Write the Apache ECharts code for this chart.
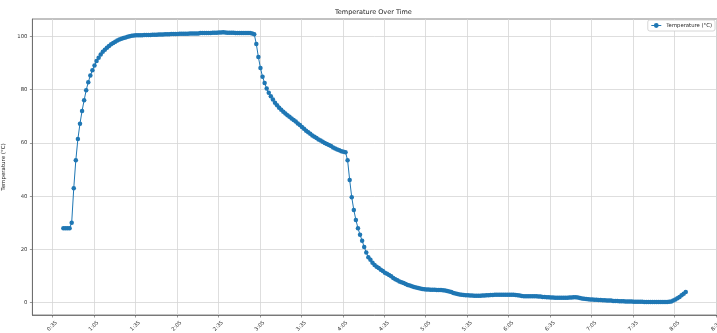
<!DOCTYPE html>
<html>
<head>
<meta charset="utf-8">
<script src="https://cdn.jsdelivr.net/npm/echarts@6/dist/echarts.min.js"></script>
<style>
  html, body { margin: 0; padding: 0; background: #fff; }
  #chart { width: 717px; height: 333px; }
</style>
</head>
<body>
<div id="chart"></div>
<script>
// sampling: first reading at 0:43, then one every 1.5 min
const startMinute = 43
const stepMinutes = 1.5

// temperature readings (°C)
const temps = [
  28.0, 28.0, 28.0, 28.0, 30.0, 43.0, 53.5, 61.5, 67.2, 72.0,
  76.0, 79.8, 82.8, 85.3, 87.3, 89.0, 90.7, 92.0, 93.2, 94.2,
  95.0, 95.7, 96.4, 97.0, 97.5, 98.0, 98.4, 98.8, 99.1, 99.4,
  99.6, 99.8, 100.0, 100.2, 100.3, 100.4, 100.4, 100.4, 100.4, 100.5,
  100.5, 100.5, 100.5, 100.6, 100.6, 100.6, 100.7, 100.7, 100.7, 100.8,
  100.8, 100.8, 100.9, 100.9, 100.9, 100.9, 101.0, 101.0, 101.0, 101.0,
  101.0, 101.1, 101.1, 101.1, 101.1, 101.1, 101.2, 101.2, 101.2, 101.2,
  101.2, 101.2, 101.3, 101.3, 101.3, 101.4, 101.4, 101.5, 101.4, 101.3,
  101.3, 101.3, 101.3, 101.2, 101.2, 101.2, 101.2, 101.2, 101.2, 101.2,
  101.2, 101.1, 100.8, 97.1, 92.2, 88.1, 84.8, 82.5, 80.4, 78.8,
  77.5, 76.3, 75.1, 74.1, 73.2, 72.4, 71.7, 71.0, 70.4, 69.8,
  69.2, 68.6, 68.0, 67.3, 66.7, 66.0, 65.3, 64.6, 64.0, 63.4,
  62.8, 62.3, 61.8, 61.3, 60.9, 60.4, 60.0, 59.6, 59.2, 58.8,
  58.3, 57.9, 57.5, 57.2, 56.9, 56.7, 56.5, 53.5, 46.1, 39.6,
  34.8, 31.1, 28.0, 25.5, 23.3, 20.9, 18.9, 17.1, 16.1, 15.0,
  14.2, 13.5, 13.0, 12.4, 11.9, 11.3, 10.9, 10.4, 9.9, 9.3,
  8.8, 8.4, 8.0, 7.7, 7.4, 7.0, 6.7, 6.5, 6.2, 5.9,
  5.7, 5.5, 5.3, 5.2, 5.1, 5.0, 5.0, 4.9, 4.9, 4.9,
  4.8, 4.8, 4.8, 4.7, 4.6, 4.4, 4.2, 4.0, 3.7, 3.5,
  3.3, 3.1, 3.0, 2.9, 2.8, 2.8, 2.7, 2.7, 2.6, 2.6,
  2.6, 2.6, 2.7, 2.7, 2.8, 2.8, 2.9, 2.9, 3.0, 3.0,
  3.0, 3.0, 3.0, 3.0, 3.0, 3.0, 3.0, 3.0, 2.9, 2.8,
  2.7, 2.5, 2.4, 2.4, 2.4, 2.4, 2.4, 2.4, 2.4, 2.3,
  2.3, 2.2, 2.2, 2.1, 2.1, 2.0, 2.0, 1.9, 1.9, 1.9,
  1.9, 1.9, 1.9, 1.9, 2.0, 2.0, 2.1, 2.1, 2.0, 1.8,
  1.6, 1.5, 1.4, 1.3, 1.2, 1.2, 1.1, 1.1, 1.0, 1.0,
  0.9, 0.9, 0.8, 0.8, 0.8, 0.7, 0.7, 0.7, 0.6, 0.6,
  0.6, 0.5, 0.5, 0.5, 0.5, 0.4, 0.4, 0.4, 0.4, 0.4,
  0.3, 0.3, 0.3, 0.3, 0.3, 0.3, 0.3, 0.3, 0.3, 0.3,
  0.3, 0.3, 0.4, 0.5, 0.8, 1.2, 1.7, 2.2, 2.8, 3.4,
  4.0
]

// tick positions (minutes) and y ticks
const xTicks = [35, 65, 95, 125, 155, 185, 215, 245, 275, 305, 335, 365, 395, 425, 455, 485, 515]
const yTicks = [0, 20, 40, 60, 80, 100]

const seriesData = temps.map(function (t, i) {
  return [startMinute + i * stepMinutes, t]
})

function fmtTime(v) {
  let h = Math.floor(v / 60)
  let m = Math.round(v - h * 60)
  return h + ':' + (m < 10 ? '0' + m : m)
}

const font = 'DejaVu Sans'
let chart = echarts.init(document.getElementById('chart'), null, { renderer: 'canvas' })

let option = {
  backgroundColor: '#fff',
  animation: false,
  textStyle: { fontFamily: font },
  title: {
    text: 'Temperature Over Time',
    left: 335,
    top: 9,
    padding: 0,
    textStyle: { fontFamily: font, fontSize: 6.5, fontWeight: 'normal', color: '#222' }
  },
  legend: {
    right: 2,
    top: 20,
    padding: [3, 3, 3, 3],
    itemWidth: 10,
    itemHeight: 6,
    lineStyle: { width: 1 },
    borderColor: '#ccc',
    borderWidth: 0.8,
    borderRadius: 2,
    backgroundColor: '#fff',
    textStyle: { fontFamily: font, fontSize: 5.3, color: '#222' },
    data: ['Temperature (°C)']
  },
  grid: {
    left: 32.4,
    right: 0,
    top: 19,
    bottom: 18,
    show: true,
    borderColor: '#666',
    borderWidth: 0.8,
    containLabel: false,
    outerBoundsMode: 'none'
  },
  xAxis: {
    type: 'value',
    min: 20.6,
    max: 515.6,
    axisLine: { show: true, onZero: false, lineStyle: { color: '#666', width: 0.8 } },
    axisTick: { show: true, length: 2.5, lineStyle: { color: '#555', width: 0.6 }, customValues: xTicks },
    axisLabel: {
      customValues: xTicks,
      formatter: fmtTime,
      rotate: 45,
      align: 'center',
      verticalAlign: 'middle',
      margin: 11,
      fontFamily: font,
      fontSize: 5.3,
      color: '#333',
      showMinLabel: true,
      showMaxLabel: true,
      hideOverlap: false
    },
    splitLine: { show: true, lineStyle: { color: '#d6d6d6', width: 0.8 } }
  },
  yAxis: {
    type: 'value',
    min: -4.6,
    max: 106.5,
    name: 'Temperature (°C)',
    nameLocation: 'middle',
    nameGap: 16,
    nameTextStyle: { fontFamily: font, fontSize: 5.5, color: '#222' },
    axisLine: { show: true, onZero: false, lineStyle: { color: '#666', width: 0.8 } },
    axisTick: { show: true, length: 2.5, lineStyle: { color: '#555', width: 0.6 }, customValues: yTicks },
    axisLabel: {
      customValues: yTicks,
      margin: 5,
      fontFamily: font,
      fontSize: 5.3,
      color: '#333'
    },
    splitLine: { show: true, lineStyle: { color: '#d6d6d6', width: 0.8 } }
  },
  series: [
    {
      name: 'Temperature (°C)',
      type: 'line',
      data: seriesData,
      symbol: 'circle',
      symbolSize: 4.5,
      showAllSymbol: true,
      itemStyle: { color: '#1f77b4' },
      lineStyle: { color: '#1f77b4', width: 1 },
      emphasis: { disabled: true }
    }
  ]
}

chart.setOption(option)
</script>
</body>
</html>
